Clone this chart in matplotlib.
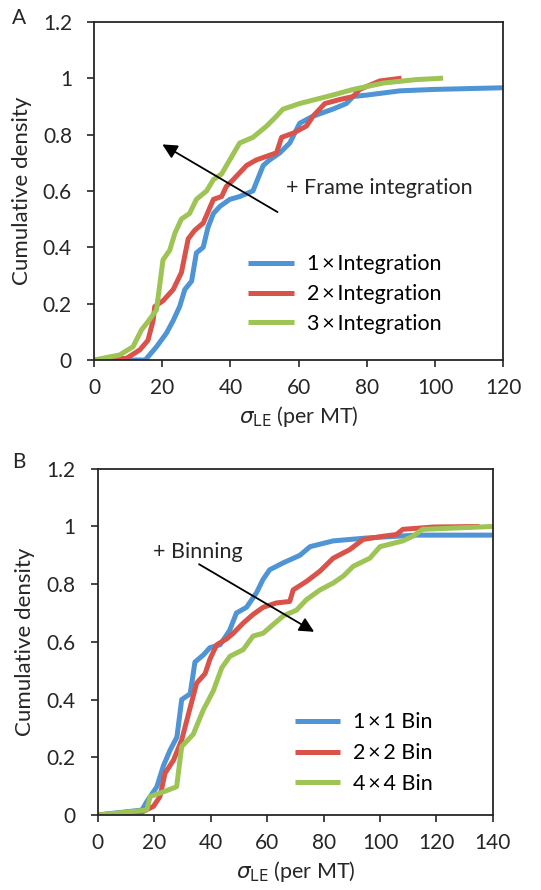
"""Cumulative density of sigma_LE for frame integration and binning."""

import matplotlib
matplotlib.use("Agg")
import matplotlib.pyplot as plt

plt.rcParams['font.family'] = ['Lato', 'DejaVu Sans']
plt.rcParams['mathtext.fontset'] = 'dejavusans'

# Panel A: frame integration (x = sigma_LE per MT, y = cumulative density)
int1_x = [0, 15, 18.3, 21.2, 23.2, 25.1, 26.6, 28.6, 30, 32, 33.4, 35, 36.9, 39.8, 42.7,
          46.6, 49.6, 51.5, 54.5, 57.4, 60.3, 64.2, 70, 74, 76, 80, 89.7, 99.5, 120]
int1_y = [0, 0, 0.047, 0.095, 0.14, 0.19, 0.25, 0.28, 0.38, 0.40, 0.47, 0.52, 0.545, 0.57, 0.58,
          0.60, 0.69, 0.71, 0.735, 0.77, 0.84, 0.865, 0.89, 0.91, 0.935, 0.94, 0.955, 0.96, 0.966]
int2_x = [0, 9.5, 13.4, 15.8, 17.3, 17.8, 20.2, 23.2, 25.6, 27.6, 29.5, 32, 35, 37.4, 38.8,
          40.8, 44.7, 47.6, 53.5, 55, 58.4, 62.3, 64.2, 67.7, 72, 76, 77.9, 83.8, 90.2]
int2_y = [0, 0.006, 0.036, 0.07, 0.14, 0.19, 0.21, 0.25, 0.31, 0.43, 0.46, 0.486, 0.57, 0.58, 0.616,
          0.64, 0.69, 0.71, 0.735, 0.79, 0.805, 0.83, 0.865, 0.91, 0.924, 0.935, 0.96, 0.99, 1.0]
int3_x = [0, 7.5, 11.4, 13.9, 15.8, 18.3, 20.2, 22.2, 23.7, 25.6, 28, 30, 33, 35, 37.4,
          39.8, 42.7, 46.6, 50.6, 53.5, 55.4, 60.3, 70, 76, 85, 94.6, 102.4]
int3_y = [0, 0.018, 0.047, 0.107, 0.136, 0.178, 0.355, 0.39, 0.45, 0.50, 0.52, 0.57, 0.60, 0.64, 0.66,
          0.71, 0.77, 0.79, 0.83, 0.865, 0.89, 0.91, 0.94, 0.96, 0.983, 0.995, 1.0]

# Panel B: binning
bin1_x = [0, 15.6, 17.3, 20.9, 23.2, 25.6, 28, 29.7, 32.7, 34.4, 37.4, 39.7, 43.3, 46.7, 49.1,
          52.7, 56.2, 58.5, 60.9, 65.7, 71.6, 75.2, 83.4, 95.2, 112.8, 140]
bin1_y = [0, 0.017, 0.046, 0.098, 0.17, 0.225, 0.27, 0.40, 0.42, 0.53, 0.555, 0.58, 0.59, 0.64, 0.70,
          0.72, 0.77, 0.816, 0.85, 0.874, 0.90, 0.93, 0.95, 0.96, 0.97, 0.97]
bin2_x = [0, 16, 19.7, 22, 23.8, 26.8, 29.7, 32.1, 35, 38, 39.7, 42.1, 45.6, 48, 51.5, 55,
          58.6, 63.3, 68, 69.2, 74, 78.7, 83.4, 89.3, 94, 101, 105.8, 108.1, 118.8, 135.3]
bin2_y = [0, 0.012, 0.03, 0.064, 0.145, 0.19, 0.26, 0.35, 0.457, 0.49, 0.54, 0.59, 0.61, 0.63, 0.665, 0.695,
          0.72, 0.735, 0.74, 0.78, 0.81, 0.845, 0.89, 0.92, 0.955, 0.966, 0.972, 0.99, 0.998, 1.0]
bin4_x = [0, 17.3, 18.5, 23.2, 27.9, 29.7, 33.8, 37.4, 40.9, 43.9, 46.8, 51.5, 55, 58.6, 62.1,
          65.7, 70.4, 73.9, 78.7, 83.4, 87, 90.5, 96.4, 100, 108.1, 111.6, 115.1, 140]
bin4_y = [0, 0.017, 0.064, 0.08, 0.098, 0.237, 0.28, 0.365, 0.43, 0.51, 0.55, 0.573, 0.62, 0.63, 0.66,
          0.69, 0.71, 0.746, 0.78, 0.804, 0.828, 0.862, 0.89, 0.93, 0.95, 0.966, 0.99, 1.0]

labels_A = [u'1\u2009\u00d7\u2009Integration', u'2\u2009\u00d7\u2009Integration', u'3\u2009\u00d7\u2009Integration']
labels_B = [u'1\u2009\u00d7\u20091 Bin', u'2\u2009\u00d7\u20092 Bin', u'4\u2009\u00d7\u20094 Bin']

blue, red, green = '#4f94d4', '#d9534a', '#9dc455'
txt = '#262626'
xlabel = r'$\sigma_{\mathsf{LE}}$ (per MT)'


def style_axes(ax, xmax):
    ax.set_xlim(0, xmax)
    ax.set_ylim(0, 1.2)
    ax.set_xticks(range(0, xmax + 1, 20))
    ax.set_yticks([0, 0.2, 0.4, 0.6, 0.8, 1, 1.2])
    ax.set_yticklabels(['0', '0.2', '0.4', '0.6', '0.8', '1', '1.2'])
    ax.tick_params(direction='out', length=5, width=1.2, labelsize=15, colors=txt)
    ax.tick_params(axis='y', pad=11)
    ax.tick_params(axis='x', pad=8)
    for s in ax.spines.values():
        s.set_linewidth(1.3)
        s.set_color(txt)
    ax.set_xlabel(xlabel, fontsize=15.5, color=txt, labelpad=4)
    ax.set_ylabel('Cumulative density', fontsize=16, color=txt, labelpad=8)


fig = plt.figure(figsize=(5.41, 8.9), dpi=100)
axA = fig.add_axes([0.174, 0.5955, 0.756, 0.380])
axB = fig.add_axes([0.181, 0.0843, 0.730, 0.389])

lw = 3.6
for xs, ys, c, lab in zip([int1_x, int2_x, int3_x], [int1_y, int2_y, int3_y], [blue, red, green], labels_A):
    axA.plot(xs, ys, color=c, lw=lw, label=lab, solid_capstyle='butt')
style_axes(axA, 120)
axA.legend(frameon=False, loc='lower left', bbox_to_anchor=(0.33, 0.02), fontsize=15.5,
           handlelength=2.1, handletextpad=0.6, labelspacing=0.45)
axA.annotate('', xy=(19.3, 0.77), xytext=(54.5, 0.52),
             arrowprops=dict(arrowstyle='-|>', color='black', lw=1.3, mutation_scale=22))
axA.text(56.4, 0.61, '+ Frame integration', fontsize=15.5, color=txt, va='center')

for xs, ys, c, lab in zip([bin1_x, bin2_x, bin4_x], [bin1_y, bin2_y, bin4_y], [blue, red, green], labels_B):
    axB.plot(xs, ys, color=c, lw=lw, label=lab, solid_capstyle='butt')
style_axes(axB, 140)
axB.legend(frameon=False, loc='lower left', bbox_to_anchor=(0.45, 0.005), fontsize=15.5,
           handlelength=2.1, handletextpad=0.6, labelspacing=0.5)
axB.annotate('', xy=(77.5, 0.63), xytext=(35, 0.874),
             arrowprops=dict(arrowstyle='-|>', color='black', lw=1.3, mutation_scale=22))
axB.text(19.7, 0.91, '+ Binning', fontsize=15.5, color=txt, va='center')

fig.text(12 / 541, 1 - 18 / 890, 'A', fontsize=15, va='center', color=txt)
fig.text(12 / 541, 1 - 462 / 890, 'B', fontsize=15, va='center', color=txt)

plt.savefig('out.png', dpi=100)
plt.close()
